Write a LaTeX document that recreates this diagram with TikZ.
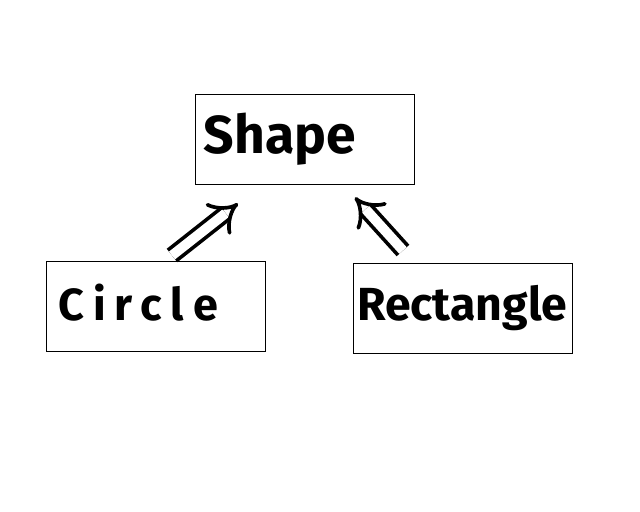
\documentclass[tikz,border=0pt]{standalone}
\usepackage{fontspec}
\setmainfont{Fira Sans}
\usetikzlibrary{arrows.meta,calc}
\tikzset{
  cls/.style={draw,line width=0.7pt,minimum width=5.45cm,minimum height=2.225cm,
    inner xsep=0.2cm,text width=5.05cm,align=left,font=\bfseries},
  inh/.style={line width=2.6pt,double,double distance=7pt,-{Implies[length=14pt,width=30pt]}}
}
\begin{document}
\begin{tikzpicture}[x=0.025cm,y=-0.025cm]
\useasboundingbox (0,0) rectangle (640,512);
% classes
\node[cls] (shape) at (305,139.5) {\fontsize{38}{40}\selectfont Shape};
\node[cls,inner xsep=0.28cm,text width=4.89cm] (circle) at (156,306.5)
  {\raisebox{6pt}{\fontsize{32}{36}\selectfont\addfontfeature{LetterSpace=20} Circle}};
\node[cls,inner xsep=0.08cm,text width=5.29cm] (rect) at (463,308.5)
  {\fontsize{33}{36}\selectfont Rectangle};
% inheritance
\draw[inh] ($(circle.north)+(16,-6)$) -- ($(shape.south)+(-67,19)$);
\draw[inh] ($(rect.north)+(-60,-13)$) -- ($(shape.south)+(50,13)$);
\end{tikzpicture}
\end{document}
